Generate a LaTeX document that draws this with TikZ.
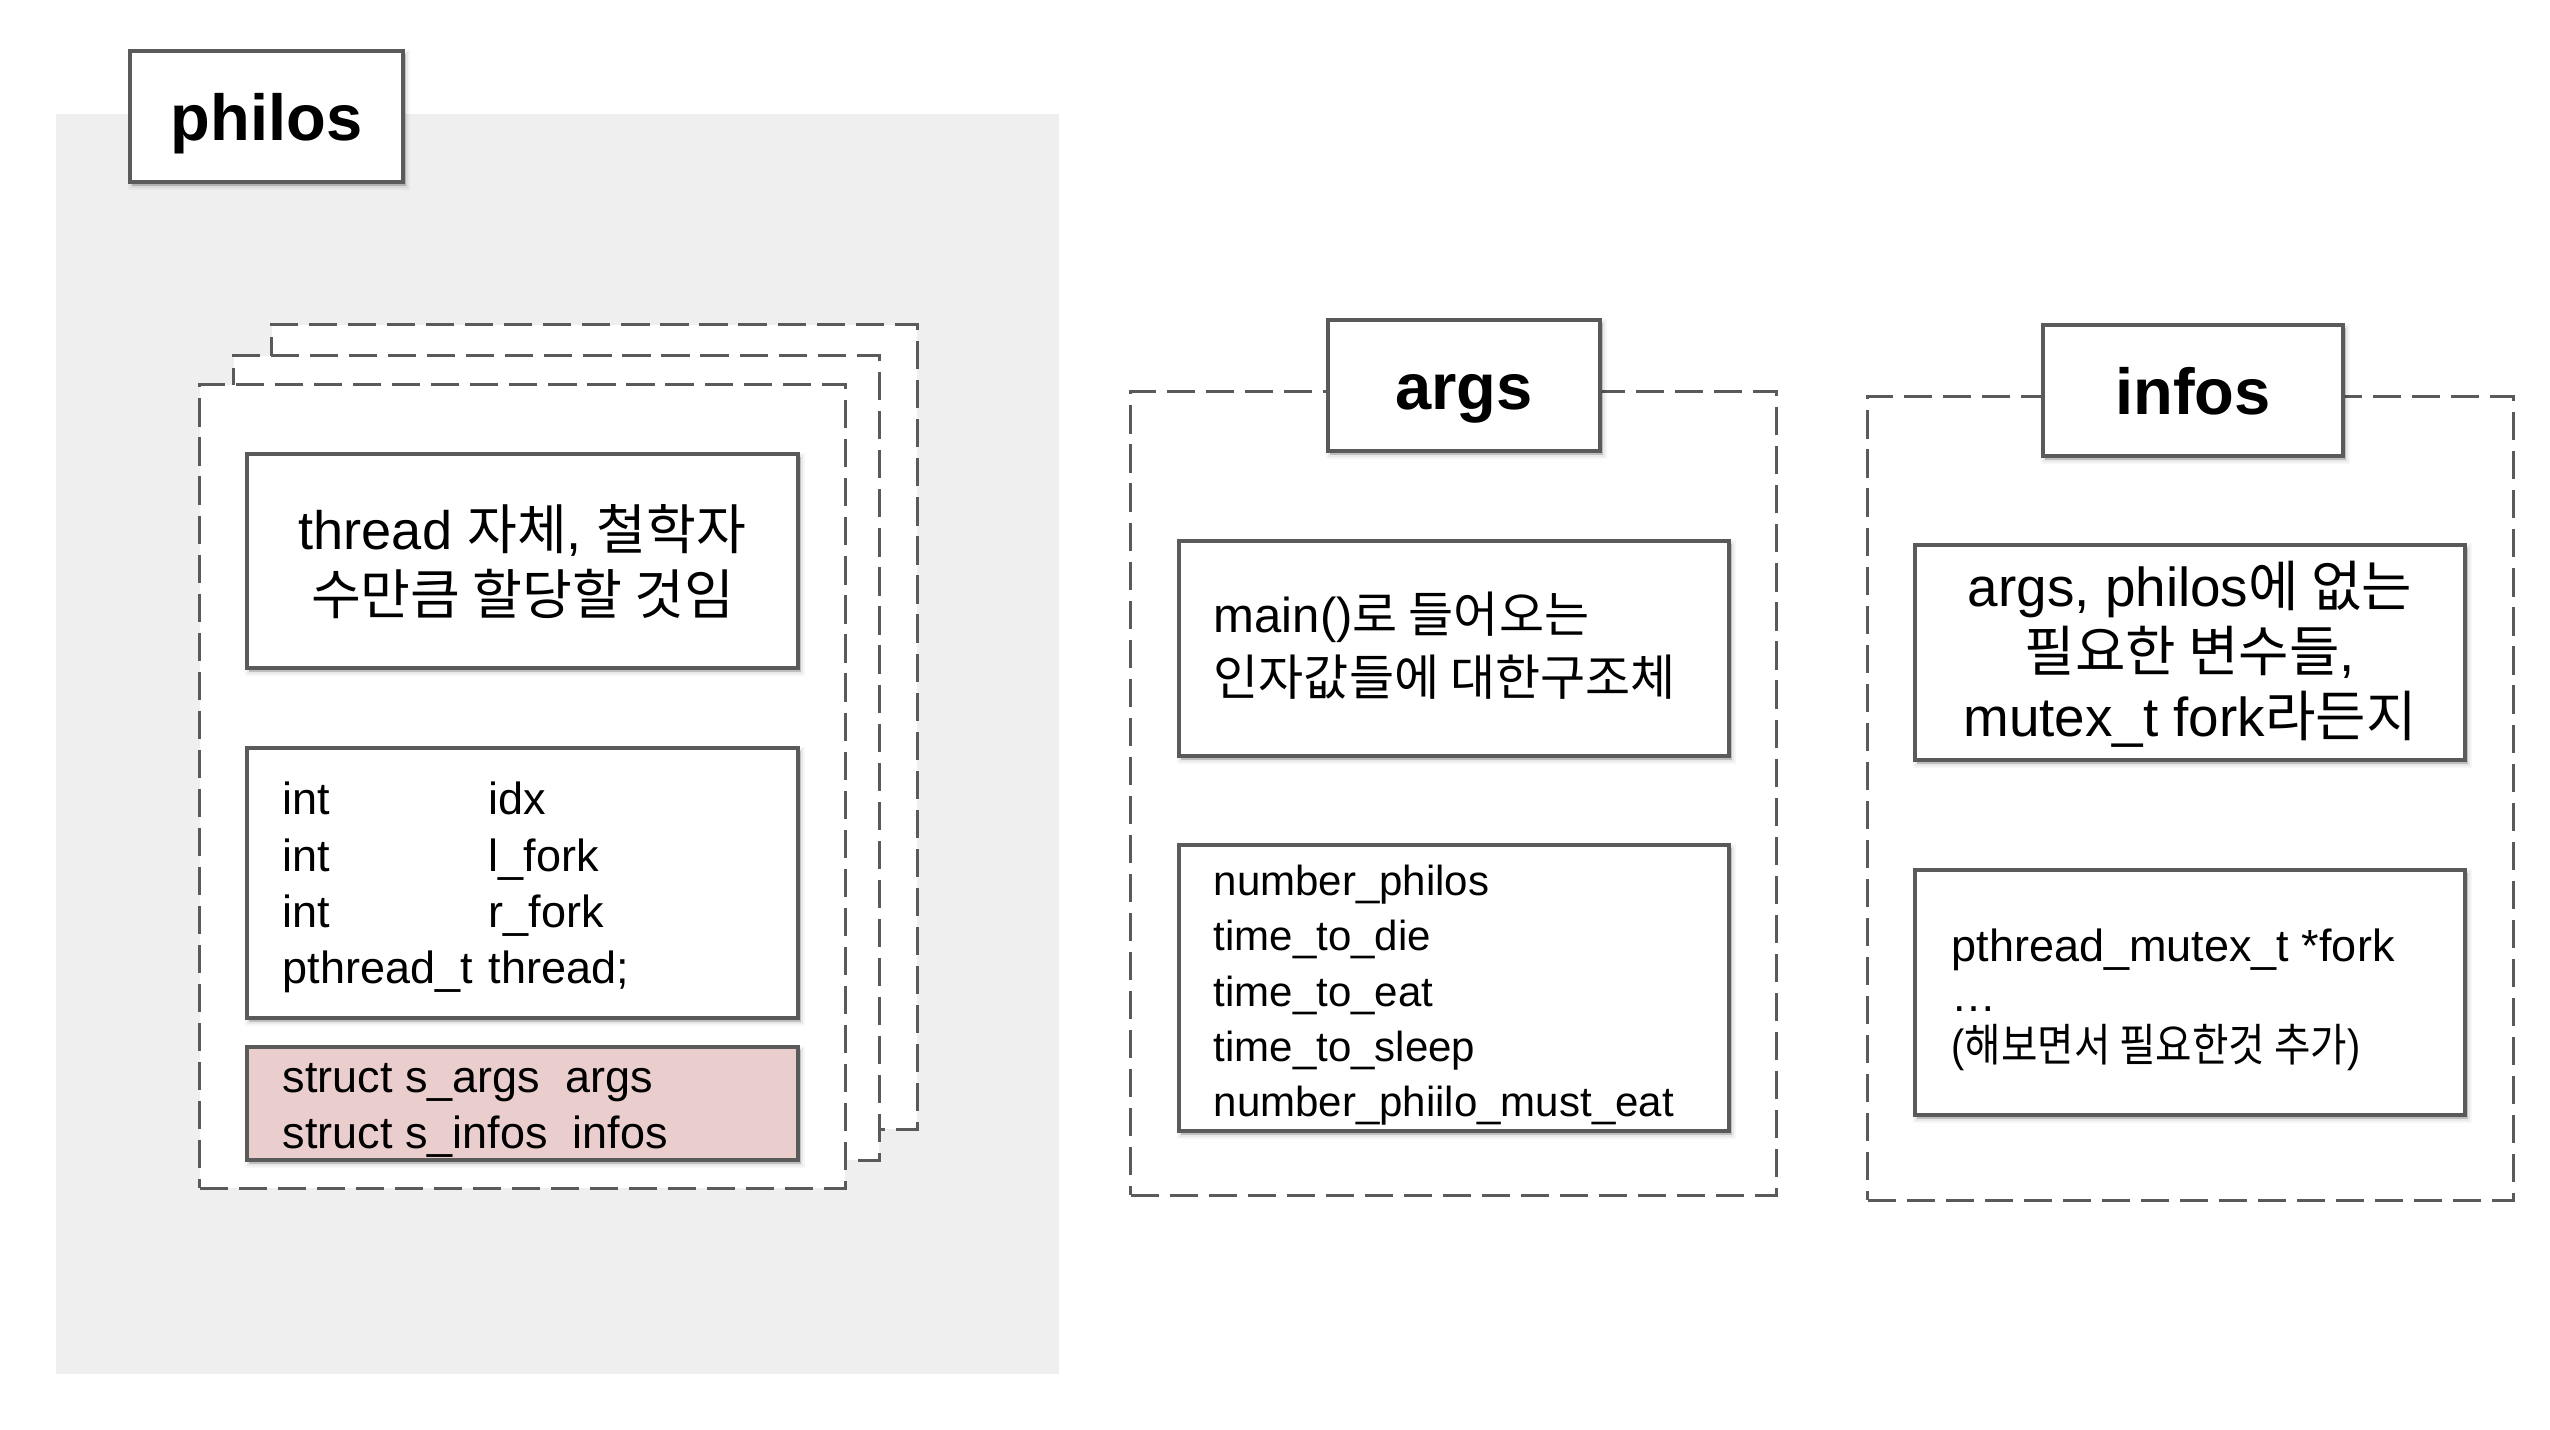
\documentclass[tikz,border=0pt]{standalone}
\usepackage{fontspec}
\usepackage{graphicx}
\setmainfont{Liberation Sans}
\newfontfamily\krfont{Noto Sans CJK KR}
\newcommand\hg[1]{{\krfont #1}}
\newcommand\topr{\rule{0pt}{20pt}}
\usetikzlibrary{shadows}
\definecolor{bgrey}{HTML}{EFEFEF}
\definecolor{lgrey}{HTML}{5A5A5A}
\definecolor{pinkfill}{HTML}{EACDCD}
\tikzset{
  soft/.style={
    general shadow={shadow xshift=0.7pt, shadow yshift=-1.0pt, fill=black, draw=black, line width=2.6pt, opacity=0.035},
    general shadow={shadow xshift=0.7pt, shadow yshift=-1.0pt, fill=black, draw=black, line width=1.3pt, opacity=0.05},
    general shadow={shadow xshift=0.7pt, shadow yshift=-1.0pt, fill=black, opacity=0.1}},
  box/.style={rectangle, draw=lgrey, line width=1.05pt, fill=white, soft, inner sep=0pt},
  titlebox/.style={box, text=black, text height=13.5pt, text depth=0pt, font={\fontsize{18.5pt}{20pt}\selectfont\bfseries}},
  dashbox/.style={rectangle, draw=lgrey, line width=0.85pt, dash pattern=on 8pt off 3.1pt, fill=white, inner sep=0pt},
  txt/.style={inner sep=0pt, text=black},
}
\begin{document}
\begin{tikzpicture}[x=0.01cm, y=-0.01cm]
\useasboundingbox (0,0) rectangle (2550,1430);
% philos region
\fill[bgrey] (56,114) rectangle (1059,1374);
\node[dashbox, minimum width=645*0.1mm, minimum height=804*0.1mm] (back) at (594.5,727) {};
\node[dashbox, minimum width=645*0.1mm, minimum height=804*0.1mm] (middle) at (556.5,758) {};
\node[dashbox, minimum width=645*0.1mm, minimum height=803*0.1mm] (front) at (522.5,786.5) {};
\node[titlebox, minimum width=273*0.1mm, minimum height=131*0.1mm] (philos) at (266.5,116.5) {philos};
\node[box, minimum width=551*0.1mm, minimum height=214*0.1mm] (thread) at (522.5,561) {};
\node[txt, anchor=north, align=center, font={\fontsize{15.4pt}{18.5pt}\selectfont}] (threadtxt) at (522.5,478)
  {\topr thread \hg{자체}, \hg{철학자}\\\hg{수만큼 할당할 것임}};
\node[box, minimum width=551*0.1mm, minimum height=270*0.1mm] (fields) at (522.5,883) {};
\node[txt, anchor=north west, align=left, font={\fontsize{12.8pt}{16pt}\selectfont}] (fieldstxt) at (282,743.7)
  {\topr\makebox[58.6pt][l]{int}idx\\\makebox[58.6pt][l]{int}l\_fork\\\makebox[58.6pt][l]{int}r\_fork\\\makebox[58.6pt][l]{pthread\_t}thread;};
\node[box, fill=pinkfill, minimum width=551*0.1mm, minimum height=113*0.1mm] (structs) at (522.5,1103.5) {};
\node[txt, anchor=north west, align=left, font={\fontsize{12.8pt}{15.9pt}\selectfont}] (structstxt) at (282,1021.7)
  {\topr struct s\_args\ \ args\\struct s\_infos\ \ infos};
% args region
\node[dashbox, minimum width=645*0.1mm, minimum height=803*0.1mm] (argsarea) at (1453.5,793.5) {};
\node[titlebox, minimum width=272*0.1mm, minimum height=131*0.1mm] (args) at (1464,385.5) {args};
\node[box, minimum width=550*0.1mm, minimum height=215*0.1mm] (argsdesc) at (1454,648.5) {};
\node[txt, anchor=north west, align=left, font={\fontsize{13.95pt}{17.9pt}\selectfont}] (argsdesctxt) at (1213,561.7)
  {\topr main()\hg{로 들어오는}\\\hg{인자값들에 대한구조체}};
\node[box, minimum width=550*0.1mm, minimum height=286*0.1mm] (argsfields) at (1454,988) {};
\node[txt, anchor=north west, align=left, font={\fontsize{11.95pt}{15.7pt}\selectfont}] (argsfieldstxt) at (1213,824.7)
  {\topr number\_philos\\time\_to\_die\\time\_to\_eat\\time\_to\_sleep\\number\_phiilo\_must\_eat};
% infos region
\node[dashbox, minimum width=645*0.1mm, minimum height=803*0.1mm] (infosarea) at (2190.5,798.5) {};
\node[titlebox, minimum width=300*0.1mm, minimum height=131*0.1mm] (infos) at (2193,390.5) {infos};
\node[box, minimum width=550*0.1mm, minimum height=215*0.1mm] (infosdesc) at (2190,652.5) {};
\node[txt, anchor=north, align=center, font={\fontsize{15.6pt}{18.5pt}\selectfont}] (infosdesctxt) at (2190,535.7)
  {\topr args, philos\hg{에 없는}\\\hg{필요한 변수들},\\mutex\_t fork\hg{라든지}};
\node[box, minimum width=550*0.1mm, minimum height=245*0.1mm] (infosfields) at (2190,992.5) {};
\node[txt, anchor=north west, align=left, font={\fontsize{12.8pt}{14.2pt}\selectfont}] (infosfieldstxt) at (1951,890.7)
  {\topr pthread\_mutex\_t *fork\\\textellipsis\\\scalebox{0.88}[1]{(\hg{해보면서 필요한것 추가})}};
\end{tikzpicture}
\end{document}
